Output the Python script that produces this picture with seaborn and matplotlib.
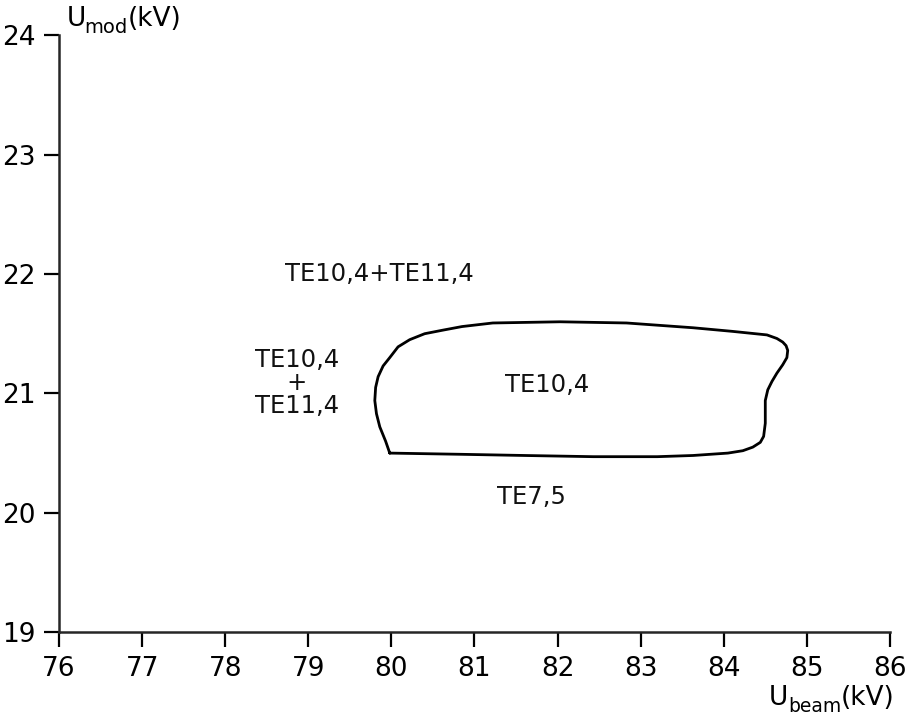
import matplotlib
matplotlib.use('Agg')
import matplotlib.pyplot as plt
import seaborn as sns
import pandas as pd

# Boundary of the TE10,4 region (U_beam, U_mod in kV)
boundary_x = [79.98, 80.83, 81.6, 82.43, 83.2, 83.63, 84.05, 84.23, 84.35, 84.44, 84.48, 84.5,
              84.5, 84.53, 84.58, 84.64, 84.71, 84.76, 84.77, 84.75, 84.71, 84.64, 84.52,
              84.1, 83.63, 82.83, 82.03, 81.22, 80.85, 80.62, 80.40, 80.22, 80.08, 79.98,
              79.90, 79.84, 79.81, 79.80, 79.82, 79.86, 79.93, 79.98]
boundary_y = [20.50, 20.49, 20.48, 20.47, 20.47, 20.48, 20.50, 20.52, 20.55, 20.59, 20.64, 20.75,
              20.94, 21.03, 21.10, 21.17, 21.24, 21.30, 21.36, 21.40, 21.43, 21.46, 21.49,
              21.52, 21.55, 21.59, 21.60, 21.59, 21.56, 21.53, 21.50, 21.45, 21.39, 21.30,
              21.23, 21.14, 21.05, 20.94, 20.83, 20.72, 20.60, 20.50]

# Mode labels and their positions
mode_labels = ['TE10,4+TE11,4', 'TE10,4\n+\nTE11,4', 'TE10,4', 'TE7,5']
label_x = [79.86, 78.86, 81.88, 81.69]
label_y = [22.0, 21.09, 21.07, 20.13]

x_ticks = list(range(76, 87))
y_ticks = list(range(19, 25))

curve = pd.DataFrame({'u_beam': boundary_x, 'u_mod': boundary_y})

sns.set_style('ticks')
plt.rcParams['font.family'] = ['DejaVu Sans']

W, H = 909, 720
fig = plt.figure(figsize=(W / 100, H / 100), dpi=100)
ax = fig.add_axes([0.065, 0.122, 0.914, 0.829])

sns.lineplot(data=curve, x='u_beam', y='u_mod', sort=False, estimator=None,
             color='black', linewidth=2, ax=ax)

for lab, lx, ly in zip(mode_labels, label_x, label_y):
    ax.text(lx, ly, lab, ha='center', va='center', fontsize=17.5,
            linespacing=0.95, color='#111111')

ax.set_xlim(76, 86)
ax.set_ylim(19, 24)
ax.set_xticks(x_ticks)
ax.set_yticks(y_ticks)
ax.tick_params(axis='both', direction='out', length=11, width=1.6,
               labelsize=19, pad=6, colors='black')
sns.despine(ax=ax)
ax.spines['left'].set_linewidth(1.8)
ax.spines['bottom'].set_linewidth(1.8)
ax.set_xlabel('')
ax.set_ylabel('')


def px_text(x, y, s, size):
    # place text by pixel position (baseline left)
    fig.text(x / W, 1 - y / H, s, fontsize=size, ha='left', va='baseline', color='black')


# y axis label: U_mod(kV)
px_text(67, 26, 'U', 19)
px_text(84, 33, 'mod', 14)
px_text(128, 26, '(kV)', 19)
# x axis label: U_beam(kV)
px_text(769, 705, 'U', 19)
px_text(788, 712, 'beam', 13.5)
px_text(841, 705, '(kV)', 19)

fig.savefig('out.png', dpi=100, facecolor='white')
